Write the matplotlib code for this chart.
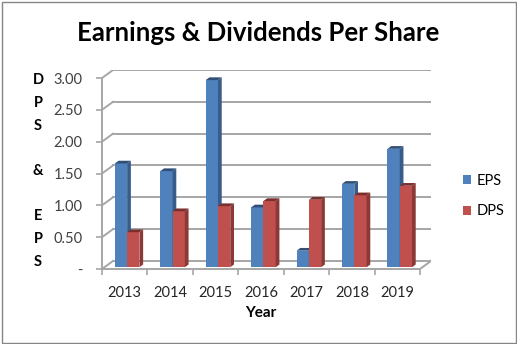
import numpy as np
import matplotlib
matplotlib.use("Agg")
import matplotlib.pyplot as plt
from matplotlib.patches import Polygon, Rectangle, Patch

plt.rcParams['font.family'] = ['Lato', 'DejaVu Sans']

# data
years = ["2013", "2014", "2015", "2016", "2017", "2018", "2019"]
eps = [1.63, 1.51, 2.94, 0.94, 0.26, 1.31, 1.86]
dps = [0.55, 0.88, 0.96, 1.04, 1.06, 1.13, 1.28]
yticks = [0, 0.5, 1.0, 1.5, 2.0, 2.5, 3.0]
ytick_labels = ["-", "0.50", "1.00", "1.50", "2.00", "2.50", "3.00"]

# colours (front, side, top)
blue = ("#4F81BD", "#385D8A", "#2F4F78")
red = ("#C0504D", "#8C3836", "#7A2F2D")
grid_c = "#A6A6A6"

W, H = 517, 344
fig = plt.figure(figsize=(W / 100, H / 100), dpi=100)

# plot box in pixels: front axis left/bottom, back wall right/top
x0, x1 = 102, 431
y0, y1 = 269, 70
DX, DY = 0.242, 0.126  # full depth of the 3d box in data units

ax = fig.add_axes([x0 / W, 1 - y0 / H, (x1 - x0) / W, (y0 - y1) / H])
ax.set_xlim(-0.5, 6.5 + DX)
ax.set_ylim(0, 3 + DY)

# -------------------------------
# walls and floor
# -------------------------------
for v in yticks:
    ax.plot([-0.5 + DX, 6.5 + DX], [v + DY, v + DY], color=grid_c, lw=1.4, zorder=1)
    ax.plot([-0.5, -0.5 + DX], [v, v + DY], color=grid_c, lw=1.4, zorder=1)
ax.plot([6.5, 6.5 + DX], [0, DY], color=grid_c, lw=1.4, zorder=1)

# -------------------------------
# bars with fake 3d faces
# -------------------------------
w = 0.27   # bar width
f = 0.22   # depth of the bar front
d = 0.34   # depth of the bar


def bar3d(xl, v, cols, z):
    fx, fy = f * DX, f * DY
    bx, by = (f + d) * DX, (f + d) * DY
    ax.add_patch(Rectangle((xl + fx, fy), w, v, facecolor=cols[0],
                           edgecolor="none", zorder=z))
    ax.add_patch(Polygon([(xl + w + fx, fy), (xl + w + bx, by),
                          (xl + w + bx, v + by), (xl + w + fx, v + fy)],
                         closed=True, facecolor=cols[1], edgecolor="none", zorder=z))
    ax.add_patch(Polygon([(xl + fx, v + fy), (xl + w + fx, v + fy),
                          (xl + w + bx, v + by), (xl + bx, v + by)],
                         closed=True, facecolor=cols[2], edgecolor="none", zorder=z))


z = 3
for i in range(len(years)):
    bar3d(i - w, eps[i], blue, z)
    bar3d(i, dps[i], red, z + 1)
    z += 2

# -------------------------------
# axes, ticks, labels
# -------------------------------
for s in ["top", "right"]:
    ax.spines[s].set_visible(False)
for s in ["left", "bottom"]:
    ax.spines[s].set_color(grid_c)
    ax.spines[s].set_linewidth(1.4)
ax.spines["left"].set_bounds(0, 3)
ax.spines["bottom"].set_bounds(-0.5, 6.5)

ax.set_yticks(yticks, ytick_labels)
ax.tick_params(axis="y", length=4, width=1.2, color=grid_c, pad=10,
               labelsize=10.5, labelcolor="#404040")
ax.set_xticks(np.arange(-0.5, 7, 1), [""] * 8)
ax.set_xticks(range(len(years)), years, minor=True)
ax.tick_params(axis="x", which="major", length=4, width=1.2, color=grid_c)
ax.tick_params(axis="x", which="minor", length=0, pad=12,
               labelsize=10.5, labelcolor="#262626")

fig.text(258 / W, 1 - 33 / H, "Earnings & Dividends Per Share",
         fontsize=18.5, fontweight="bold", ha="center", va="center")
fig.text(38 / W, 1 - 171 / H, "D\nP\nS\n\n&\n\nE\nP\nS", fontsize=10.5,
         fontweight="bold", ha="center", va="center", linespacing=1.79)
fig.text(261 / W, 1 - 313 / H, "Year", fontsize=11, fontweight="bold",
         ha="center", va="center")

handles = [Patch(facecolor=blue[0], label="EPS"), Patch(facecolor=red[0], label="DPS")]
ax.legend(handles=handles, loc="center left", bbox_to_anchor=(463 / W, 1 - 196 / H),
          bbox_transform=fig.transFigure, frameon=False, fontsize=10.5,
          handlelength=0.55, handleheight=0.55, handletextpad=0.35,
          labelspacing=1.15, borderpad=0, borderaxespad=0)

fig.add_artist(Rectangle((1.5 / W, 1.5 / H), 1 - 3 / W, 1 - 3 / H,
                         transform=fig.transFigure, fill=False,
                         edgecolor="#868686", lw=1))

fig.savefig("out.png", dpi=100)
plt.close()
